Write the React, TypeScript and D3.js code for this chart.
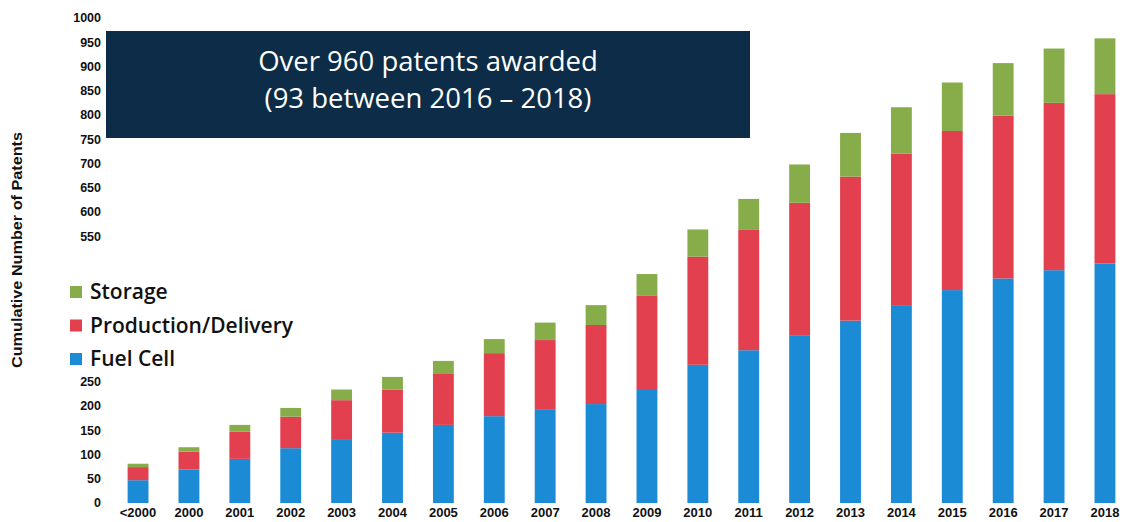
import React from "react";
import * as d3 from "d3";

const categories = ["<2000","2000","2001","2002","2003","2004","2005","2006","2007","2008","2009","2010","2011","2012","2013","2014","2015","2016","2017","2018"];
const fuelCell = [47,69,91,113,130,145,161,179,192,204,233,285,315,346,376,408,439,463,480,494];
const production = [27,37,56,65,82,89,105,130,144,163,194,223,248,273,297,312,328,336,345,349];
const storage = [7,9,14,18,22,26,27,29,36,41,45,56,64,79,90,96,100,108,112,115];
const tickValues = [0,50,100,150,200,250,550,600,650,700,750,800,850,900,950,1000];
const seriesNames = ["Fuel Cell","Production/Delivery","Storage"];
const seriesColors = ["#1b8bd5","#e2404f","#86ad4a"];
const legendOrder = ["Storage","Production/Delivery","Fuel Cell"];
const annotationLines = ["Over 960 patents awarded","(93 between 2016 \u2013 2018)"];
const yTitle = "Cumulative Number of Patents";

export default function App() {
  const W = 1125, H = 522;
  const x = d3.scaleBand<string>().domain(categories).range([112.6, 1130.4]).paddingInner(0.59).paddingOuter(0.295);
  const y = d3.scaleLinear().domain([0, 1000]).range([503, 18]);
  const rows = categories.map((c, i) => ({ cat: c, "Fuel Cell": fuelCell[i], "Production/Delivery": production[i], Storage: storage[i] }));
  const stack = d3.stack<any>().keys(seriesNames)(rows);
  const color = d3.scaleOrdinal<string, string>().domain(seriesNames).range(seriesColors);
  const tickFont = "'Liberation Sans', Arial, sans-serif";
  return (
    <svg width={W} height={H} style={{ position: "absolute", left: 0, top: 0, background: "#fff" }}>
      <rect x={0} y={0} width={W} height={H} fill="#ffffff" />
      {stack.map((s) => (
        <g key={s.key} fill={color(s.key)}>
          {s.map((d, i) => (
            <rect key={i} x={x(categories[i])} width={x.bandwidth()} y={y(d[1])} height={y(d[0]) - y(d[1])} />
          ))}
        </g>
      ))}
      {tickValues.map((t) => (
        <text key={t} x={101} y={y(t)} dy="0.35em" textAnchor="end" fontFamily={tickFont} fontWeight="bold" fontSize={12.5} fill="#111">{t}</text>
      ))}
      {categories.map((c) => (
        <text key={c} x={(x(c) as number) + x.bandwidth() / 2} y={517} textAnchor="middle" fontFamily={tickFont} fontWeight="bold" fontSize={13} fill="#111">{c}</text>
      ))}
      <text transform={`translate(22,250) rotate(-90)`} textAnchor="middle" fontFamily={tickFont} fontWeight="bold" fontSize={14} textLength={236} lengthAdjust="spacingAndGlyphs" fill="#111">{yTitle}</text>
      {legendOrder.map((name, i) => (
        <g key={name} transform={`translate(70,${292 + i * 33.5})`}>
          <rect x={0} y={-6} width={12} height={12} fill={color(name)} />
          <text x={20} y={0} dy="0.35em" fontFamily="'Open Sans', sans-serif" fontWeight="600" fontSize={21} fill="#111">{name}</text>
        </g>
      ))}
      <rect x={106} y={31} width={644} height={107} fill="#0c2c47" />
      {annotationLines.map((l, i) => (
        <text key={i} x={428} y={61 + i * 37} dy="0.35em" textAnchor="middle" fontFamily="'Open Sans', sans-serif" fontSize={27.5} fill="#ffffff">{l}</text>
      ))}
    </svg>
  );
}
